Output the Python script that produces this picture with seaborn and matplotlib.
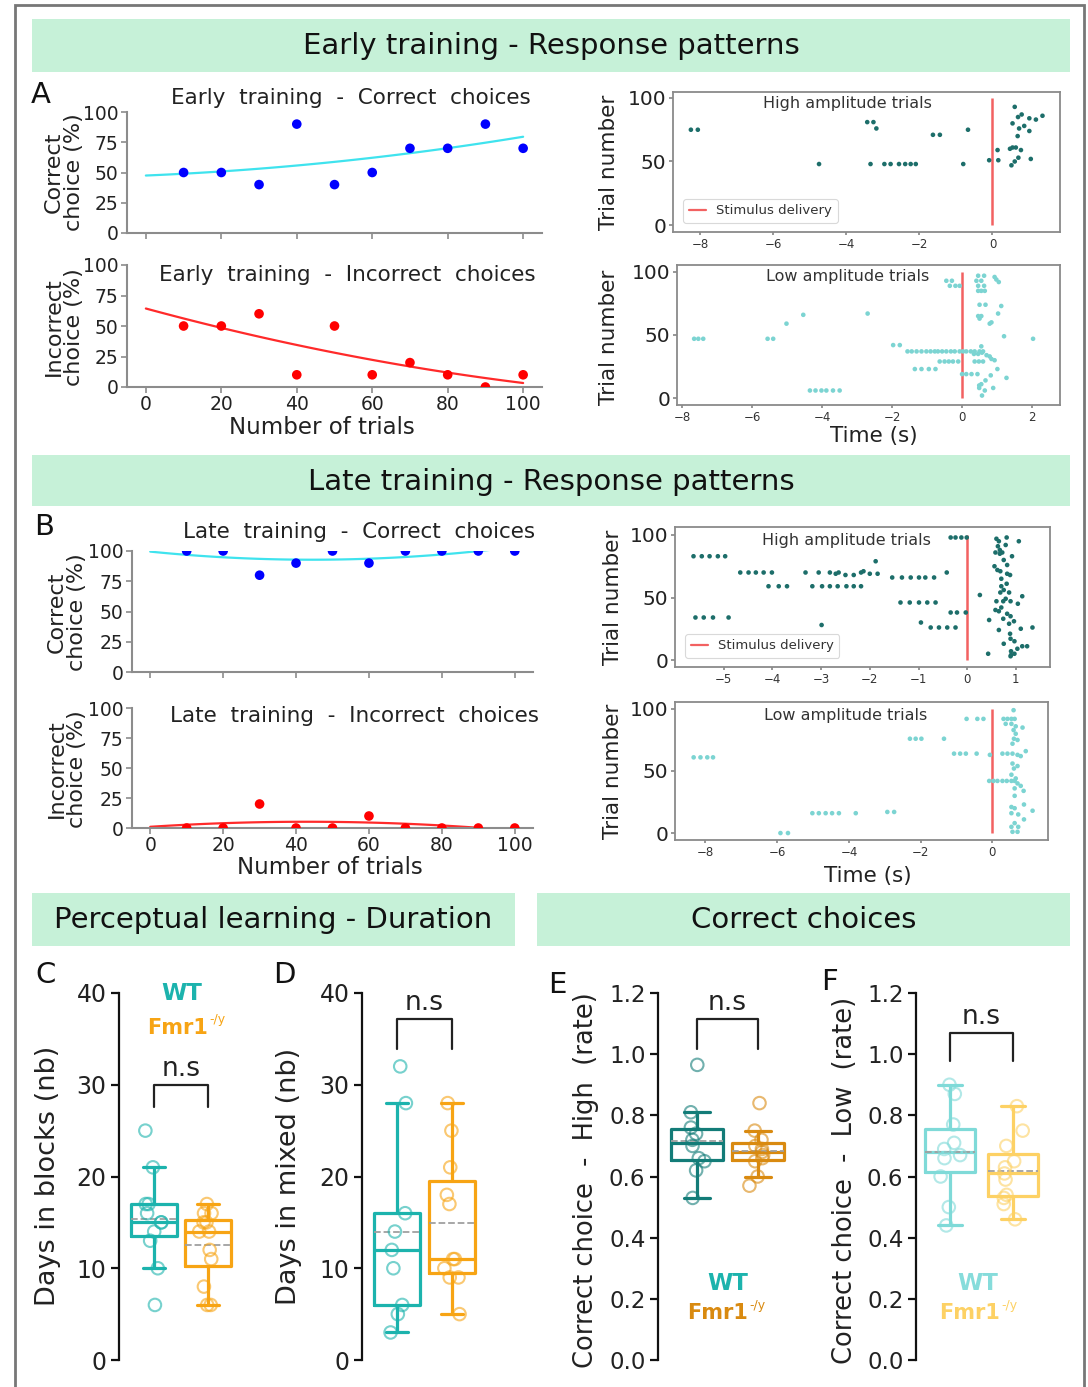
import numpy as np
import pandas as pd
import matplotlib
matplotlib.use("Agg")
import matplotlib.pyplot as plt
import seaborn as sns
from matplotlib.patches import Rectangle
from matplotlib.lines import Line2D

# ---------------- data ----------------
trials = [10, 20, 30, 40, 50, 60, 70, 80, 90, 100]
early_correct = [50, 50, 40, 90, 40, 50, 70, 70, 90, 70]
early_incorrect = [50, 50, 60, 10, 50, 10, 20, 10, 0, 10]
late_correct = [100, 100, 80, 90, 100, 90, 100, 100, 100, 100]
late_incorrect = [0, 0, 20, 0, 0, 10, 0, 0, 0, 0]

stim_time = 0.0
trial_span = (0, 100)

# raster data: (time in s, trial number)
high_early = [(-8.26, 75), (-8.07, 75), (-3.43, 81), (-3.26, 81), (-3.18, 76), (-1.63, 71), (-1.44, 71),
              (-0.67, 75), (-4.75, 48), (-3.34, 48), (-2.96, 48), (-2.79, 48), (-2.56, 48), (-2.39, 48),
              (-2.24, 48), (-2.10, 48), (-0.80, 48), (-0.09, 51), (0.16, 51), (0.14, 59),
              (0.61, 93), (0.70, 85), (0.80, 87), (1.01, 84), (1.19, 83), (1.37, 86), (0.55, 80),
              (0.73, 76), (0.87, 78), (1.01, 74), (0.69, 70), (0.64, 61), (0.48, 60), (0.55, 61),
              (0.78, 59), (0.71, 53), (1.05, 52), (0.61, 50), (0.52, 47)]
low_early = [(-0.45, 93), (-0.29, 93), (0.41, 93), (0.55, 93), (-0.35, 89), (-0.19, 89), (-0.07, 89),
             (0.46, 89), (0.63, 89), (0.46, 97), (0.63, 97), (0.93, 96), (0.98, 94), (1.05, 92),
             (0.46, 85), (0.55, 85), (0.65, 85), (0.50, 74), (0.67, 74), (1.12, 73), (0.46, 65),
             (0.55, 65), (0.50, 63), (1.03, 67), (0.79, 59), (0.84, 60), (-5.02, 59), (-4.54, 66),
             (-2.70, 67), (-7.66, 47), (-7.54, 47), (-7.40, 47), (-5.56, 47), (-5.40, 47), (1.20, 49),
             (2.03, 47), (-1.97, 42), (-1.78, 42), (0.55, 41),
             (-1.56, 37), (-1.44, 37), (-1.30, 37), (-1.16, 37), (-1.02, 37), (-0.90, 37), (-0.78, 37),
             (-0.69, 37), (-0.57, 37), (-0.45, 37), (-0.32, 37), (-0.21, 37), (-0.07, 37), (0.03, 37),
             (0.12, 37), (0.25, 37), (0.36, 37), (0.50, 37), (0.60, 37),
             (0.34, 35), (0.46, 35), (0.57, 36), (0.70, 34), (0.79, 33), (0.84, 31), (0.93, 30),
             (-0.64, 29), (-0.50, 29), (-0.38, 29), (-0.26, 29), (-0.11, 29), (0.36, 29), (0.48, 29),
             (0.60, 29), (-1.35, 23), (-1.16, 23), (-0.95, 23), (-0.76, 23), (1.01, 23),
             (0.00, 19), (0.12, 19), (0.27, 19), (0.44, 19), (0.82, 18), (1.27, 16), (0.67, 14),
             (0.49, 10), (0.55, 11), (0.89, 8), (0.49, 8), (-4.35, 6), (-4.19, 6), (-4.02, 6),
             (-3.88, 6), (-3.69, 6), (-3.50, 6), (0.65, 6), (0.57, 2)]
high_late = [(-0.34, 98), (-0.24, 98), (-0.12, 98), (-0.01, 98),
             (-5.62, 83), (-5.45, 83), (-5.29, 83), (-5.12, 83), (-4.97, 83),
             (-4.66, 70), (-4.49, 70), (-4.34, 70), (-4.18, 70), (-4.01, 70),
             (-3.32, 70), (-3.05, 70), (-2.82, 70), (-2.70, 69), (-2.64, 70), (-2.50, 68), (-2.33, 68),
             (-2.18, 70), (-2.00, 69), (-2.13, 71), (-1.88, 79), (-1.84, 69),
             (-1.54, 66), (-1.34, 66), (-1.16, 66), (-0.99, 66), (-0.86, 66), (-0.68, 66), (-0.42, 70),
             (-4.08, 59), (-3.87, 59), (-3.70, 59), (-3.18, 59), (-2.98, 59), (-2.82, 59), (-2.66, 59),
             (-2.48, 59), (-2.33, 59), (-2.18, 59),
             (-1.37, 46), (-1.18, 46), (-0.99, 46), (-0.82, 46), (-0.65, 46),
             (-0.34, 38), (-0.21, 38), (-0.03, 38),
             (-5.58, 34), (-5.41, 34), (-5.22, 34), (-4.90, 34), (-2.99, 28), (-0.95, 30),
             (-0.75, 26), (-0.58, 26), (-0.41, 26), (-0.24, 26),
             (0.60, 97), (0.65, 95), (0.81, 98), (1.06, 95), (0.63, 91), (0.67, 88), (0.79, 92),
             (0.58, 86), (0.72, 86), (0.92, 83), (0.67, 85), (0.75, 80), (0.82, 76), (0.56, 75),
             (0.62, 72), (0.68, 71), (0.82, 69), (0.88, 68), (0.70, 65), (0.81, 61), (0.70, 59),
             (0.75, 56), (0.68, 54), (0.86, 54), (0.26, 52), (1.13, 51), (0.79, 49), (0.60, 47),
             (0.74, 47), (0.89, 47), (1.04, 45), (0.70, 42), (0.65, 39), (0.58, 40), (0.82, 37),
             (0.89, 35), (0.74, 33), (0.96, 31), (0.45, 32), (0.86, 29), (1.10, 25), (1.34, 26),
             (0.65, 24), (0.88, 21), (0.89, 17), (0.97, 15), (0.75, 13), (1.13, 11), (1.23, 11),
             (1.03, 9), (0.90, 7), (0.97, 5), (0.89, 3), (0.43, 5), (0.90, 4)]
low_late = [(-8.33, 61), (-8.14, 61), (-7.95, 61), (-7.79, 61), (-5.91, 0), (-5.70, 0),
            (-5.02, 16), (-4.84, 16), (-4.65, 16), (-4.47, 16), (-4.28, 16), (-3.81, 16), (-2.93, 17),
            (-2.74, 17), (-2.30, 76), (-2.14, 76), (-1.98, 76), (-1.35, 76),
            (-0.72, 92), (-0.42, 92), (-0.25, 92), (0.31, 92), (0.42, 92), (0.53, 92), (0.62, 92),
            (-1.07, 64), (-0.90, 64), (-0.74, 64), (-0.44, 64), (-0.07, 63), (0.28, 64), (0.42, 64),
            (0.56, 64), (0.70, 63), (0.93, 66),
            (-0.09, 42), (0.03, 42), (0.14, 42), (0.28, 42), (0.40, 42), (0.53, 42), (0.62, 42),
            (0.59, 99), (0.37, 88), (0.53, 88), (0.65, 86), (0.84, 85), (0.59, 83), (0.65, 80),
            (0.60, 76), (0.70, 75), (0.56, 72), (0.79, 62), (0.56, 56), (0.70, 54), (0.60, 52),
            (0.53, 47), (0.65, 44), (0.70, 40), (0.79, 38), (0.62, 36), (0.87, 34), (0.62, 30),
            (0.88, 23), (0.53, 21), (0.62, 20), (1.12, 18), (0.53, 16), (0.72, 15), (0.88, 11),
            (0.62, 8), (0.53, 5), (0.72, 5), (0.56, 1), (0.70, 1)]

# box plot data
groups = ["WT", "Fmr1"]
blocks_wt = [6, 10, 13, 14, 15, 15, 16, 17, 17, 21, 25]
blocks_ko = [6, 6, 8, 11, 12, 14, 14, 15, 15, 16, 16, 17]
mixed_wt = [3, 5, 6, 10, 12, 14, 16, 28, 32]
mixed_ko = [5, 9, 9, 10, 11, 11, 17, 18, 21, 25, 28]
high_wt = [0.53, 0.62, 0.65, 0.66, 0.70, 0.72, 0.74, 0.76, 0.81, 0.965]
high_ko = [0.57, 0.60, 0.65, 0.66, 0.67, 0.68, 0.69, 0.70, 0.72, 0.75, 0.84]
low_wt = [0.44, 0.50, 0.60, 0.66, 0.67, 0.69, 0.71, 0.77, 0.87, 0.90]
low_ko = [0.46, 0.51, 0.53, 0.54, 0.59, 0.61, 0.63, 0.65, 0.70, 0.75, 0.83]

# ---------------- style ----------------
sns.set_theme(style="white")
plt.rcParams['font.family'] = ['DejaVu Sans']
np.random.seed(3)

W, H = 1088, 1387
fig = plt.figure(figsize=(W / 100, H / 100), dpi=100)
fig.patch.set_facecolor('white')
TXT = '#222222'


def fx(x):
    return x / W


def fy(y):
    return 1 - y / H


def px_ax(x0, y0, x1, y1):
    return fig.add_axes([x0 / W, 1 - y1 / H, (x1 - x0) / W, (y1 - y0) / H])


def ftext(x, y, s, **kw):
    kw.setdefault('color', TXT)
    fig.text(fx(x), fy(y), s, ha=kw.pop('ha', 'center'), va=kw.pop('va', 'center'), **kw)


# border
fig.add_artist(Rectangle((fx(15), -0.02), fx(1084 - 15), fy(5) + 0.02, transform=fig.transFigure,
                         facecolor='none', edgecolor='#777777', lw=2))

HEADER_C = '#c6f1d8'


def header(x0, y0, x1, y1, text):
    fig.add_artist(Rectangle((fx(x0), fy(y1)), fx(x1 - x0), (y1 - y0) / H, transform=fig.transFigure,
                             facecolor=HEADER_C, edgecolor='none', zorder=0))
    ftext((x0 + x1) / 2, (y0 + y1) / 2 + 1, text, fontsize=21, color='#111111')


header(32, 19, 1070, 72, "Early training - Response patterns")
header(32, 455, 1070, 506, "Late training - Response patterns")
header(32, 893, 515, 946, "Perceptual learning - Duration")
header(537, 893, 1070, 946, "Correct choices")

# ---------------- scatter + fit panels ----------------
GRAY = '#8c8c8c'


def scatter_panel(box, y, pt_color, line_color, title, title_pos, xlabels):
    ax = px_ax(*box)
    ax.set_xlim(0, 100)
    sns.regplot(x=trials, y=y, order=2, ci=None, scatter=False, truncate=False, ax=ax,
                line_kws=dict(color=line_color, lw=1.6))
    sns.scatterplot(x=trials, y=y, ax=ax, color=pt_color, s=48, edgecolor='none', zorder=3)
    ax.set_xlim(-5, 105)
    ax.set_ylim(0, 100)
    ax.set_xticks([0, 20, 40, 60, 80, 100])
    ax.set_yticks([0, 25, 50, 75, 100])
    for s in ['top', 'right']:
        ax.spines[s].set_visible(False)
    for s in ['left', 'bottom']:
        ax.spines[s].set_color(GRAY)
        ax.spines[s].set_linewidth(1.5)
    ax.tick_params(axis='both', which='both', bottom=True, left=True, length=4, width=1.2,
                   color=GRAY, labelsize=13.5, labelcolor=TXT, pad=2)
    ax.tick_params(axis='x', labelbottom=xlabels)
    ax.set_xlabel('')
    ax.set_ylabel('')
    ax.patch.set_alpha(0)
    ax.text(title_pos[0], title_pos[1], title, transform=ax.transAxes, ha='center', va='center',
            fontsize=15.5, color=TXT)
    return ax


scatter_panel((127, 112, 542, 233), early_correct, '#0000ff', '#3fe3ee',
              "Early  training  -  Correct  choices", (0.54, 1.115), False)
scatter_panel((127, 265, 542, 387), early_incorrect, '#ff0000', '#ff2a2a',
              "Early  training  -  Incorrect  choices", (0.53, 0.92), True)
scatter_panel((132, 551, 533, 672), late_correct, '#0000ff', '#3fe3ee',
              "Late  training  -  Correct  choices", (0.566, 1.157), False)
scatter_panel((132, 708, 533, 828), late_incorrect, '#ff0000', '#ff2a2a',
              "Late  training  -  Incorrect  choices", (0.554, 0.933), True)

ftext(64, 172, "Correct\nchoice (%)", rotation=90, fontsize=16, linespacing=1.0)
ftext(64, 327, "Incorrect\nchoice (%)", rotation=90, fontsize=16, linespacing=1.0)
ftext(67, 612, "Correct\nchoice (%)", rotation=90, fontsize=16, linespacing=1.0)
ftext(67, 769, "Incorrect\nchoice (%)", rotation=90, fontsize=16, linespacing=1.0)
ftext(322, 427, "Number of trials", fontsize=16.5)
ftext(330, 867, "Number of trials", fontsize=16.5)
ftext(41, 95, "A", fontsize=21, color='#111111')
ftext(44, 527, "B", fontsize=21, color='#111111')

# ---------------- raster panels ----------------
HIGH_C = '#1d6e6a'
LOW_C = '#7cd4d2'
STIM_C = '#f26161'


def raster(box, data, color, label, lpos, xlim, ylim, xticks, legend):
    ax = px_ax(*box)
    df = pd.DataFrame(data, columns=['t', 'trial'])
    sns.scatterplot(data=df, x='t', y='trial', ax=ax, color=color, s=11, edgecolor='none', zorder=3)
    ax.vlines(stim_time, trial_span[0], trial_span[1], color=STIM_C, lw=1.8, zorder=2)
    ax.set_xlim(*xlim)
    ax.set_ylim(*ylim)
    ax.set_xticks(xticks)
    ax.set_yticks([0, 50, 100])
    for s in ax.spines.values():
        s.set_color('#8a8a8a')
        s.set_linewidth(1.3)
    ax.tick_params(axis='y', left=True, length=3, color='#8a8a8a', labelsize=14.5,
                   labelcolor=TXT, pad=2)
    ax.tick_params(axis='x', bottom=True, length=2, color='#8a8a8a', labelsize=8.5,
                   labelcolor='#333333', pad=2)
    ax.set_xlabel('')
    ax.set_ylabel('')
    ax.text(lpos[0], lpos[1], label, transform=ax.transAxes, ha='center', va='center',
            fontsize=11.5, color='#333333')
    if legend:
        h = Line2D([], [], color=STIM_C, lw=1.6)
        leg = ax.legend([h], ["Stimulus delivery"], loc='lower left', fontsize=9.5, frameon=True,
                        handlelength=1.3, borderpad=0.4, bbox_to_anchor=(0.01, 0.02))
        leg.get_frame().set_edgecolor('#d0d0d0')
        leg.get_frame().set_linewidth(0.8)
        for t in leg.get_texts():
            t.set_color('#333333')
    return ax


raster((673, 92, 1060, 232), high_early, HIGH_C, "High amplitude trials", (0.452, 0.92),
       (-8.75, 1.85), (-5.5, 104.7), [-8, -6, -4, -2, 0], True)
raster((677, 265, 1060, 405), low_early, LOW_C, "Low amplitude trials", (0.446, 0.92),
       (-8.15, 2.8), (-5.5, 105.5), [-8, -6, -4, -2, 0, 2], False)
raster((675, 527, 1050, 667), high_late, HIGH_C, "High amplitude trials", (0.456, 0.9),
       (-6.0, 1.7), (-5.6, 106.4), [-5, -4, -3, -2, -1, 0, 1], True)
raster((675, 702, 1048, 840), low_late, LOW_C, "Low amplitude trials", (0.458, 0.9),
       (-8.85, 1.55), (-5.6, 105.6), [-8, -6, -4, -2, 0], False)

ftext(609, 162, "Trial number", rotation=90, fontsize=15.5)
ftext(609, 337, "Trial number", rotation=90, fontsize=15.5)
ftext(613, 597, "Trial number", rotation=90, fontsize=15.5)
ftext(613, 771, "Trial number", rotation=90, fontsize=15.5)
ftext(874, 436, "Time (s)", fontsize=15.5)
ftext(868, 876, "Time (s)", fontsize=15.5)

# ---------------- box plot panels ----------------


def box_panel(spine_x, cat0_x, ppu, wt, ko, c_wt, c_ko, ylim, yticks, fmt, bracket, width, lsize):
    left = -(cat0_x - spine_x) / ppu
    ax = px_ax(spine_x, 993, spine_x + 150, 1360)
    df = pd.DataFrame({'group': [groups[0]] * len(wt) + [groups[1]] * len(ko), 'val': wt + ko})
    pal = {groups[0]: c_wt, groups[1]: c_ko}
    sns.boxplot(data=df, x='group', y='val', hue='group', palette=pal, fill=False, width=width,
                linewidth=2.3, showfliers=False, showmeans=True, meanline=True,
                meanprops=dict(color='#a0a0a0', ls='--', lw=1.3), legend=False, ax=ax, zorder=2)
    sns.stripplot(data=df, x='group', y='val', hue='group', palette=pal, jitter=0.17, size=9,
                  linewidth=1.5, legend=False, ax=ax, zorder=3)
    for coll in ax.collections:
        fc = coll.get_facecolors()
        fc[:, 3] = 0.6
        coll.set_edgecolors(fc)
        coll.set_facecolors('none')
    ax.set_xlim(left, left + 150 / ppu)
    ax.set_ylim(*ylim)
    ax.set_yticks(yticks)
    ax.set_yticklabels([fmt.format(v) for v in yticks])
    for s in ['top', 'right', 'bottom']:
        ax.spines[s].set_visible(False)
    ax.spines['left'].set_color('#111111')
    ax.spines['left'].set_linewidth(1.6)
    ax.tick_params(axis='y', left=True, length=6, width=1.6, color='#111111', labelsize=lsize,
                   labelcolor=TXT, pad=3)
    ax.tick_params(axis='x', bottom=False, labelbottom=False)
    ax.set_xlabel('')
    ax.set_ylabel('')
    ax.patch.set_alpha(0)
    lo, hi = bracket
    ax.plot([0, 0, 1, 1], [lo, hi, hi, lo], color=TXT, lw=1.6, clip_on=False)
    ax.text(0.5, hi + (ylim[1] - ylim[0]) * 0.008, "n.s", ha='center', va='bottom', fontsize=19,
            color=TXT)
    return ax


box_panel(119, 154, 54, blocks_wt, blocks_ko, '#1cb3ad', '#f7a414', (0, 40),
          [0, 10, 20, 30, 40], "{:d}", (27.6, 30.0), 0.85, 17)
box_panel(362, 397, 55, mixed_wt, mixed_ko, '#1cb3ad', '#f7a414', (0, 40),
          [0, 10, 20, 30, 40], "{:d}", (33.9, 37.2), 0.82, 17)
box_panel(658, 697, 61, high_wt, high_ko, '#137c78', '#d98a10', (0, 1.2),
          [0, 0.2, 0.4, 0.6, 0.8, 1.0, 1.2], "{:.1f}", (1.017, 1.115), 0.84, 16.5)
box_panel(916, 950, 63, low_wt, low_ko, '#7fdad8', '#fdd164', (0, 1.2),
          [0, 0.2, 0.4, 0.6, 0.8, 1.0, 1.2], "{:.1f}", (0.978, 1.07), 0.79, 16.5)


def group_key(x_wt, y_wt, x_ko_right, y_ko, c_wt, c_ko):
    ftext(x_wt, y_wt, "WT", fontsize=16.5, fontweight='bold', color=c_wt)
    ftext(x_ko_right, y_ko, "Fmr1", fontsize=15, fontweight='bold', color=c_ko, ha='right')
    ftext(x_ko_right + 1, y_ko - 8, "-/y", fontsize=9, color=c_ko, ha='left')


group_key(182, 994, 208, 1028, '#1cb3ad', '#f7a414')
group_key(728, 1283, 748, 1313, '#1cb3ad', '#d98a10')
group_key(978, 1283, 1000, 1313, '#86dcdb', '#fdd164')

ftext(48, 1176, "Days in blocks (nb)", rotation=90, fontsize=19.5)
ftext(289, 1176, "Days in mixed (nb)", rotation=90, fontsize=19.5)
ftext(586, 1180, "Correct choice  -  High  (rate)", rotation=90, fontsize=18.5)
ftext(845, 1180, "Correct choice  -  Low  (rate)", rotation=90, fontsize=18.5)

ftext(46, 975, "C", fontsize=21, color='#111111')
ftext(284, 975, "D", fontsize=21, color='#111111')
ftext(557, 985, "E", fontsize=21, color='#111111')
ftext(829, 982, "F", fontsize=21, color='#111111')

fig.savefig("out.png", dpi=100)
